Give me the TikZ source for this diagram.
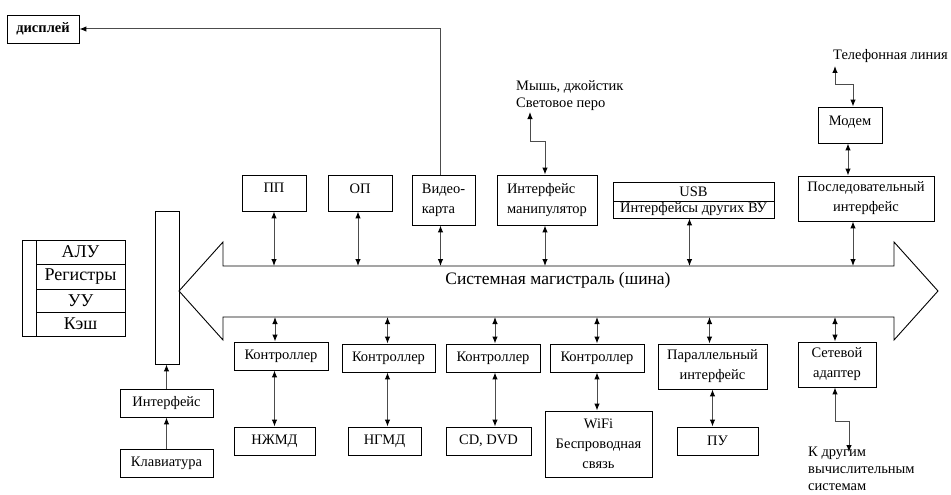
\documentclass[tikz,border=0pt]{standalone}
\usepackage{fontspec}
\setmainfont{Liberation Serif}
\usetikzlibrary{positioning,arrows.meta}

\begin{document}
\begin{tikzpicture}[x=1pt,y=-1pt,
    >={Latex[length=7pt,width=5.5pt,color=black]},
    box/.style={draw, line width=0.9pt, inner sep=1pt, font=\fontsize{14.5}{20}\selectfont},
    big/.style={inner sep=0pt, font=\fontsize{18}{20}\selectfont},
    plain/.style={font=\fontsize{14.5}{17}\selectfont, inner sep=0pt},
    link/.style={<->, draw=black!70, line width=1pt},
    feed/.style={->, draw=black!70, line width=1pt}]
\useasboundingbox (0,0) rectangle (951,495);

\node [box, minimum width=72, minimum height=28, font=\fontsize{14.5}{20}\bfseries] (disp) at (43,29) {дисплей};

\node [box, minimum width=64, minimum height=36, text depth=9.6pt] (pp) at (274,193) {ПП};
\node [box, minimum width=64, minimum height=36, text depth=9.6pt] (op) at (360,193) {ОП};
\node [box, minimum width=63, minimum height=50, align=left] (vid) at (443.5,200) {Видео-\\карта};
\node [box, minimum width=100, minimum height=50, align=left] (man) at (547,200) {Интерфейс\\манипулятор};
\node [box, minimum width=161, minimum height=19] (usb1) at (693.5,191.5) {USB};
\node [box, minimum width=161, minimum height=17] (usb2) at (693.5,209.5) {Интерфейсы других ВУ};
\node [box, minimum width=136, minimum height=45, align=center] (ser) at (866,198.5) {Последовательный\\интерфейс};
\node [box, minimum width=64, minimum height=36, text depth=7.6pt] (mod) at (850,125) {Модем};

\node [plain, anchor=north west, align=left] (mouse) at (516,80) {Мышь, джойстик\\Световое перо};
\node [plain, anchor=base west] (tel) at (833,60) {Телефонная линия};
\coordinate (ms) at (530,112);
\coordinate (tl) at (835,66);

\node [draw, line width=0.9pt, minimum width=103, minimum height=96] (cpu) at (73.5,288) {};
\draw [line width=0.9pt] (36,240) -- (36,336) (36,264) -- (125,264) (36,289) -- (125,289) (36,312) -- (125,312);
\node [big] (alu) at (80.5,252) {АЛУ};
\node [big] (reg) at (80.5,276.5) {Регистры};
\node [big] (uu) at (80.5,300.5) {УУ};
\node [big] (kesh) at (80.5,324) {Кэш};

\node [box, minimum width=24, minimum height=153] (bar) at (167,287.5) {};
\node [box, minimum width=93, minimum height=28] (ifc) at (166.5,403) {Интерфейс};
\node [box, minimum width=93, minimum height=28] (kbd) at (166.5,463) {Клавиатура};

\draw [line width=0.9pt] (179,291) -- (223,242) -- (223,266) -- (894,266) -- (894,242) -- (938,291)
    -- (894,340) -- (894,317) -- (223,317) -- (223,340) -- cycle;
\node [font=\fontsize{17.5}{20}\selectfont] (bus) at (558,280) {Системная магистраль (шина)};
\coordinate (bt) at (0,266);
\coordinate (bb) at (0,317);

\node [box, minimum width=94, minimum height=28] (c1) at (281,356) {Контроллер};
\node [box, minimum width=93, minimum height=28] (c2) at (388.5,358) {Контроллер};
\node [box, minimum width=94, minimum height=28] (c3) at (493,358) {Контроллер};
\node [box, minimum width=94, minimum height=28] (c4) at (597,358) {Контроллер};
\node [box, minimum width=109, minimum height=45, align=center] (par) at (712.5,366.5) {Параллельный\\интерфейс};
\node [box, minimum width=78, minimum height=45, align=center] (net) at (837,364.5) {Сетевой\\адаптер};

\node [box, minimum width=81, minimum height=28] (hdd) at (274.5,441) {НЖМД};
\node [box, minimum width=73, minimum height=28] (fdd) at (384.5,441) {НГМД};
\node [box, minimum width=85, minimum height=28] (cd) at (488.5,441) {CD, DVD};
\node [box, minimum width=107, minimum height=66, align=center] (wifi) at (598.5,444) {WiFi\\Беспроводная\\связь};
\node [box, minimum width=81, minimum height=28] (pu) at (717.5,441) {ПУ};
\node [plain, anchor=north west, align=left, font=\fontsize{14.5}{17}\selectfont] (other) at (808,447) {К другим\\вычислительным\\системам};
\coordinate (od) at (849,452);

\draw [feed] ([xshift=-3]vid.north) |- (disp.east);
\draw [link] ([xshift=-2]man.north) -- ++(0,-33) -| (ms);
\draw [link] ([xshift=3]mod.north) -- ++(0,-22) -| (tl);
\draw [link] ([xshift=-2]mod.south) -- ([xshift=-2]mod.south |- ser.north);

\draw [link] (pp.south) -- (pp.south |- bt);
\draw [link] ([xshift=-2]op.south) -- ([xshift=-2]op.south |- bt);
\draw [link] ([xshift=-3]vid.south) -- ([xshift=-3]vid.south |- bt);
\draw [link] ([xshift=-2]man.south) -- ([xshift=-2]man.south |- bt);
\draw [link] ([xshift=-4]usb2.south) -- ([xshift=-4]usb2.south |- bt);
\draw [link] ([xshift=-13]ser.south) -- ([xshift=-13]ser.south |- bt);

\draw [link] ([xshift=-6]c1.north |- bb) -- ([xshift=-6]c1.north);
\draw [link] ([xshift=-1]c2.north |- bb) -- ([xshift=-1]c2.north);
\draw [link] ([xshift=2]c3.north |- bb) -- ([xshift=2]c3.north);
\draw [link] (c4.north |- bb) -- (c4.north);
\draw [link] ([xshift=-3]par.north |- bb) -- ([xshift=-3]par.north);
\draw [link] ([xshift=-2]net.north |- bb) -- ([xshift=-2]net.north);

\draw [link] (hdd.north) -- (hdd.north |- c1.south);
\draw [link] ([xshift=-1]c2.south) -- ([xshift=-1]c2.south |- fdd.north);
\draw [link] ([xshift=2]c3.south) -- ([xshift=2]c3.south |- cd.north);
\draw [link] (c4.south) -- (c4.south |- wifi.north);
\draw [link] (par.south) -- (par.south |- pu.north);
\draw [link] ([xshift=-2]net.south) -- ++(0,34) -| (od);

\draw [feed] (ifc.north) -- (ifc.north |- bar.south);
\draw [feed] (kbd) -- (ifc);
\end{tikzpicture}
\end{document}
